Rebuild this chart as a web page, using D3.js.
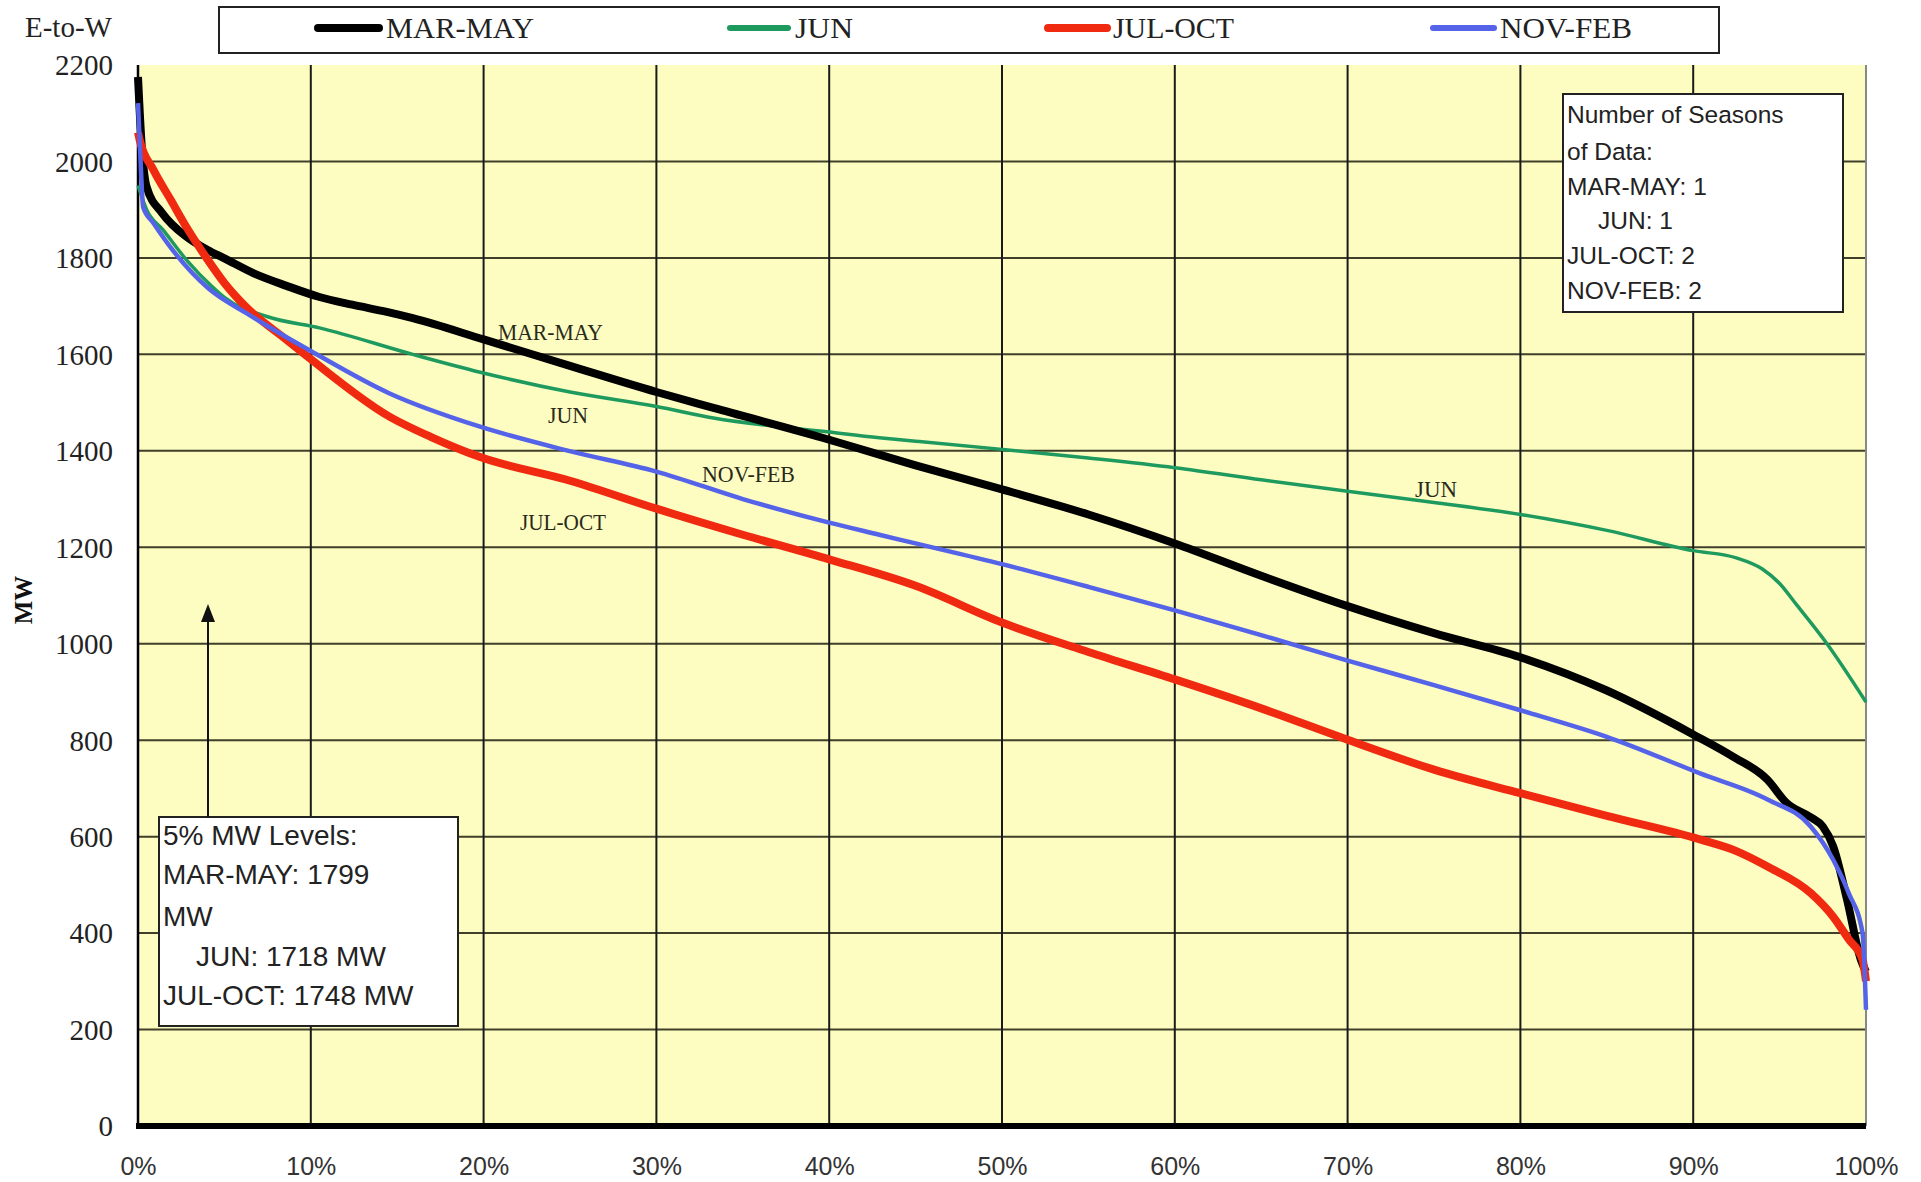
<!DOCTYPE html>
<html>
<head>
<meta charset="utf-8">
<script src="https://cdnjs.cloudflare.com/ajax/libs/d3/7.8.5/d3.min.js"></script>
<style>
  html, body { margin: 0; padding: 0; background: #ffffff; }
  svg { display: block; }
</style>
</head>
<body>
<svg id="chart" width="1921" height="1182"></svg>
<script>
// Load duration curves by season: percent of hours vs. MW flow (E-to-W)
const seriesNames = ["MAR-MAY", "JUN", "JUL-OCT", "NOV-FEB"];

const marMayPct = [0, 0.2, 0.5, 1.4, 2.8, 4, 5, 6.7, 8.6, 10.5, 12.4, 14.4, 15.9, 20, 25, 30, 33.3, 40, 42.9, 45, 50, 55, 60, 65, 70, 75, 80, 85, 90, 92.3, 94.3, 95.4, 96.8, 97.5, 98.1, 98.9, 99.7, 100];
const marMayMW  = [2175, 2040, 1947, 1893, 1844, 1817, 1799, 1768, 1742, 1719, 1703, 1688, 1675, 1631, 1576, 1522, 1489, 1423, 1392, 1370, 1320, 1268, 1208, 1141, 1078, 1022, 972, 903, 812, 766, 718, 670, 640, 621, 580, 470, 345, 320];

const junPct = [0, 0.5, 1.45, 2.8, 4.3, 5, 7.5, 10.5, 15.9, 19.8, 25, 30, 33.3, 40, 42.9, 45, 50, 55, 60, 65, 70, 75, 80, 85, 90, 92.5, 94, 95, 96, 97.7, 100];
const junMW  = [1950, 1900, 1858, 1796, 1740, 1718, 1678, 1655, 1600, 1563, 1522, 1492, 1468, 1439, 1427, 1420, 1403, 1385, 1365, 1340, 1316, 1293, 1268, 1235, 1193, 1178, 1155, 1125, 1080, 1002, 879];

const julOctPct = [0, 0.1, 0.9, 1.9, 2.8, 4, 5, 6.2, 8.6, 10, 14.5, 17, 19.8, 25, 30, 35, 40, 45, 50, 55, 60, 65, 70, 75, 80, 85, 90.4, 92.5, 94.3, 96.8, 98.1, 99, 99.8, 100];
const julOctMW  = [2060, 2044, 1982, 1920, 1864, 1798, 1748, 1700, 1630, 1590, 1472, 1428, 1387, 1338, 1280, 1226, 1175, 1120, 1044, 983, 926, 866, 801, 739, 690, 643, 594, 570, 538, 483, 434, 387, 345, 300];

const novFebPct = [0, 0.15, 0.3, 0.9, 2.1, 4.1, 6.2, 8, 10, 14.5, 19.8, 24.8, 30, 35, 40, 42.9, 45, 50, 55, 60, 65, 70, 75, 80, 85, 90.4, 94.3, 96.8, 98.1, 99, 99.8, 100];
const novFebMW  = [2121, 2000, 1905, 1872, 1812, 1736, 1687, 1648, 1607, 1520, 1450, 1401, 1357, 1300, 1251, 1226, 1208, 1165, 1118, 1069, 1018, 965, 914, 862, 807, 731, 677, 621, 552, 483, 400, 241];

const yTicks = [0, 200, 400, 600, 800, 1000, 1200, 1400, 1600, 1800, 2000, 2200];
const xTicks = [0, 10, 20, 30, 40, 50, 60, 70, 80, 90, 100];

const seasonsNote = ["Number of Seasons", "of Data:", "MAR-MAY: 1", "JUN: 1", "JUL-OCT: 2", "NOV-FEB: 2"];
const levelsNote = ["5% MW Levels:", "MAR-MAY: 1799", "MW", "JUN: 1718 MW", "JUL-OCT: 1748 MW"];

// ---- layout ----
const plot = { left: 138, right: 1866, top: 65, bottom: 1126 };
const x = d3.scaleLinear().domain([0, 100]).range([plot.left, plot.right]);
const y = d3.scaleLinear().domain([0, 2200]).range([plot.bottom, plot.top]);

const colors = { "MAR-MAY": "#000000", "JUN": "#1f9a5e", "JUL-OCT": "#f02a10", "NOV-FEB": "#5563e8" };
const widths = { "MAR-MAY": 8, "JUN": 3.5, "JUL-OCT": 8, "NOV-FEB": 4.5 };

const svg = d3.select("#chart");
const serif = "'Liberation Serif', 'Times New Roman', serif";
const sans = "'Liberation Sans', Arial, sans-serif";

// plot background
svg.append("rect")
  .attr("x", plot.left).attr("y", plot.top)
  .attr("width", plot.right - plot.left).attr("height", plot.bottom - plot.top)
  .attr("fill", "#fdfdc2");

// horizontal grid
svg.append("g").selectAll("line")
  .data(yTicks.filter(v => v > 0 && v < 2200))
  .join("line")
  .attr("x1", plot.left).attr("x2", plot.right)
  .attr("y1", d => y(d)).attr("y2", d => y(d))
  .attr("stroke", "#3f3f2a").attr("stroke-width", 2);

// vertical grid
svg.append("g").selectAll("line")
  .data(xTicks.filter(v => v > 0 && v < 100))
  .join("line")
  .attr("x1", d => x(d)).attr("x2", d => x(d))
  .attr("y1", plot.top).attr("y2", plot.bottom)
  .attr("stroke", "#1a1a1a").attr("stroke-width", 2);

// right edge
svg.append("line")
  .attr("x1", plot.right).attr("x2", plot.right)
  .attr("y1", plot.top).attr("y2", plot.bottom)
  .attr("stroke", "#888888").attr("stroke-width", 2);

// left axis line
svg.append("line")
  .attr("x1", plot.left).attr("x2", plot.left)
  .attr("y1", plot.top).attr("y2", plot.bottom)
  .attr("stroke", "#000").attr("stroke-width", 2.5);

// y axis labels
const yAxis = d3.axisLeft(y).tickValues(yTicks).tickSize(0).tickPadding(0).tickFormat(d3.format("d"));
const gy = svg.append("g").attr("transform", `translate(${113},0)`).call(yAxis);
gy.select(".domain").remove();
gy.selectAll("text")
  .attr("font-family", serif).attr("font-size", 29).attr("fill", "#222")
  .attr("text-anchor", "end").attr("dy", "0.34em").attr("x", 0);

// x axis labels
const xAxis = d3.axisBottom(x).tickValues(xTicks).tickSize(0).tickPadding(0).tickFormat(d => d + "%");
const gx = svg.append("g").attr("transform", `translate(0,${1166})`).call(xAxis);
gx.select(".domain").remove();
gx.selectAll("text")
  .attr("font-family", sans).attr("font-size", 25).attr("fill", "#333")
  .attr("dy", "0.35em").attr("y", 0);

// data lines (green under, blue on top)
const series = {
  "MAR-MAY": marMayPct.map((p, i) => [p, marMayMW[i]]),
  "JUN": junPct.map((p, i) => [p, junMW[i]]),
  "JUL-OCT": julOctPct.map((p, i) => [p, julOctMW[i]]),
  "NOV-FEB": novFebPct.map((p, i) => [p, novFebMW[i]])
};
const line = d3.line().x(d => x(d[0])).y(d => y(d[1])).curve(d3.curveMonotoneX);
["JUN", "MAR-MAY", "JUL-OCT", "NOV-FEB"].forEach(name => {
  svg.append("path")
    .datum(series[name])
    .attr("d", line)
    .attr("fill", "none")
    .attr("stroke", colors[name])
    .attr("stroke-width", widths[name])
    .attr("stroke-linejoin", "round")
    .attr("stroke-linecap", "butt");
});

// bottom axis line (thick)
svg.append("line")
  .attr("x1", plot.left - 2).attr("x2", plot.right)
  .attr("y1", plot.bottom).attr("y2", plot.bottom)
  .attr("stroke", "#000").attr("stroke-width", 6);

// in-plot curve labels
const curveLabels = [
  { text: "MAR-MAY", x: 498, y: 340, w: 105 },
  { text: "JUN", x: 548, y: 423, w: 40 },
  { text: "NOV-FEB", x: 702, y: 482, w: 93 },
  { text: "JUL-OCT", x: 520, y: 530, w: 86 },
  { text: "JUN", x: 1415, y: 497, w: 42 }
];
svg.append("g").selectAll("text")
  .data(curveLabels)
  .join("text")
  .attr("x", d => d.x).attr("y", d => d.y)
  .attr("font-family", serif).attr("font-size", 23).attr("fill", "#2a2a1a")
  .attr("textLength", d => d.w).attr("lengthAdjust", "spacingAndGlyphs")
  .text(d => d.text);

// axis titles
svg.append("text")
  .attr("x", 25).attr("y", 37)
  .attr("font-family", serif).attr("font-size", 29).attr("fill", "#222")
  .text("E-to-W");
svg.append("text")
  .attr("transform", "translate(32,600) rotate(-90)")
  .attr("text-anchor", "middle")
  .attr("font-family", serif).attr("font-size", 25).attr("font-weight", "bold").attr("fill", "#111")
  .text("MW");

// legend
const legend = svg.append("g");
legend.append("rect")
  .attr("x", 219).attr("y", 7).attr("width", 1500).attr("height", 46)
  .attr("fill", "#fff").attr("stroke", "#222").attr("stroke-width", 2);
const legendItems = [
  { name: "MAR-MAY", x1: 314, x2: 383, w: 8, tx: 386, tw: 148 },
  { name: "JUN", x1: 727, x2: 791, w: 6, tx: 795, tw: 58 },
  { name: "JUL-OCT", x1: 1044, x2: 1111, w: 8, tx: 1113, tw: 121 },
  { name: "NOV-FEB", x1: 1430, x2: 1497, w: 6, tx: 1500, tw: 132 }
];
legendItems.forEach(it => {
  legend.append("line")
    .attr("x1", it.x1 + it.w / 2).attr("x2", it.x2 - it.w / 2)
    .attr("y1", 28).attr("y2", 28)
    .attr("stroke", colors[it.name]).attr("stroke-width", it.w)
    .attr("stroke-linecap", "round");
  legend.append("text")
    .attr("x", it.tx).attr("y", 38)
    .attr("font-family", serif).attr("font-size", 29).attr("fill", "#222")
    .attr("textLength", it.tw).attr("lengthAdjust", "spacingAndGlyphs")
    .text(it.name);
});

// note boxes
function noteBox(bx, by, bw, bh, lines, tx, baselines, indents, fs) {
  const g = svg.append("g");
  g.append("rect")
    .attr("x", bx).attr("y", by).attr("width", bw).attr("height", bh)
    .attr("fill", "#fff").attr("stroke", "#222").attr("stroke-width", 2);
  g.selectAll("text")
    .data(lines)
    .join("text")
    .attr("x", (d, i) => tx + indents[i])
    .attr("y", (d, i) => baselines[i])
    .attr("font-family", sans).attr("font-size", fs).attr("fill", "#222")
    .text(d => d);
}
noteBox(1563, 94, 280, 218, seasonsNote, 1567,
  [123, 160, 195, 229, 264, 299], [0, 0, 0, 31, 0, 0], 24.5);
noteBox(159, 817, 299, 209, levelsNote, 163,
  [845, 884, 926, 966, 1005], [0, 0, 0, 33, 0], 28);

// arrow pointing up to the 5% column
const ax = 208;
svg.append("line")
  .attr("x1", ax).attr("x2", ax)
  .attr("y1", 817).attr("y2", 618)
  .attr("stroke", "#111").attr("stroke-width", 2);
svg.append("path")
  .attr("d", `M${ax},604 L${ax - 7},622 L${ax + 7},622 Z`)
  .attr("fill", "#111");
</script>
</body>
</html>
